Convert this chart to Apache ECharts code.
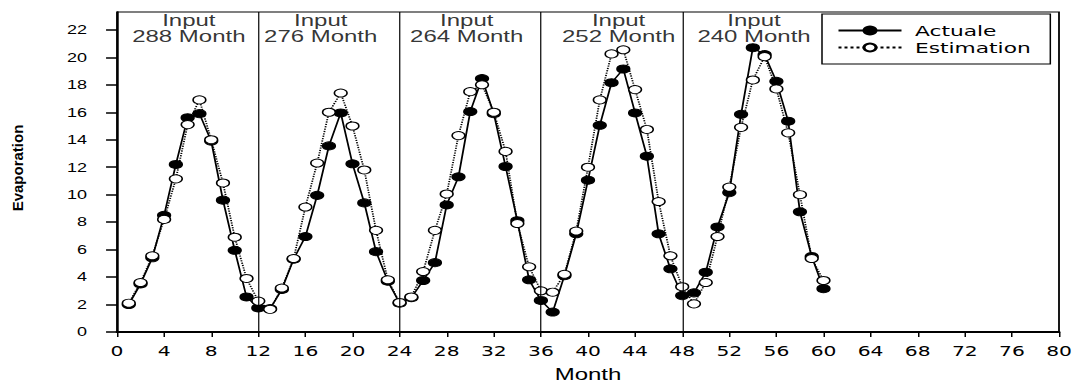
<!DOCTYPE html>
<html>
<head>
<meta charset="utf-8">
<title>Evaporation</title>
<script src="https://cdn.jsdelivr.net/npm/echarts@6/dist/echarts.min.js"></script>
<style>
  html, body { margin: 0; padding: 0; background: #fff; overflow: hidden; }
  /* the original figure is stretched sideways, so the chart is drawn narrow and widened */
  #main { width: 716px; height: 385px; transform: scaleX(1.5); transform-origin: 0 0; }
</style>
</head>
<body>
<div id="main"></div>
<script>
const months = []
for (let m = 1; m <= 60; m++) months.push(m)

const actuale = [
  2.0, 3.5, 5.4, 8.5, 12.2, 15.6, 15.9, 13.9, 9.6, 5.95, 2.55, 1.75,
  1.7, 3.1, 5.3, 6.95, 9.95, 13.55, 15.95, 12.25, 9.4, 5.85, 3.7, 2.1,
  2.5, 3.75, 5.05, 9.25, 11.3, 16.05, 18.45, 15.9, 12.05, 8.1, 3.8, 2.3,
  1.45, 4.1, 7.15, 11.05, 15.05, 18.15, 19.15, 15.95, 12.8, 7.15, 4.6, 2.65,
  2.85, 4.35, 7.65, 10.15, 15.85, 20.7, 20.2, 18.25, 15.35, 8.75, 5.5, 3.15
]
const estimation = [
  2.1, 3.6, 5.55, 8.2, 11.15, 15.1, 16.9, 14.0, 10.85, 6.9, 3.9, 2.25,
  1.65, 3.2, 5.35, 9.1, 12.3, 16.0, 17.4, 15.0, 11.8, 7.4, 3.8, 2.15,
  2.55, 4.4, 7.4, 10.05, 14.3, 17.5, 18.0, 16.0, 13.15, 7.9, 4.75, 3.0,
  2.9, 4.2, 7.35, 12.0, 16.9, 20.25, 20.55, 17.65, 14.75, 9.5, 5.55, 3.3,
  2.05, 3.6, 6.95, 10.55, 14.9, 18.35, 20.05, 17.7, 14.5, 10.0, 5.35, 3.75
]

// panel dividers and captions
const dividers = [12, 24, 36, 48]
const panelInputs = ['288', '276', '264', '252', '240']
const panelX = [6.1, 17.3, 29.7, 42.6, 54.1]
const panelY = 22.1

const xTicks = [0, 4, 8, 12, 16, 20, 24, 28, 32, 36, 40, 44, 48, 52, 56, 60, 64, 68, 72, 76, 80]
const yTicks = [0, 2, 4, 6, 8, 10, 12, 14, 16, 18, 20, 22]

const chart = echarts.init(document.getElementById('main'), null, { renderer: 'svg' })

const option = {
  animation: false,
  backgroundColor: '#fff',
  grid: {
    left: 78,
    right: 10,
    top: 12,
    bottom: 53,
    show: true,
    borderColor: '#000',
    borderWidth: 1.2,
    containLabel: false,
    outerBoundsMode: 'none'
  },
  legend: {
    data: ['Actuale', 'Estimation'],
    orient: 'vertical',
    left: 548,
    top: 14,
    padding: [8, 13, 8, 10],
    itemWidth: 42,
    itemHeight: 10,
    itemGap: 0,
    borderColor: '#000',
    borderWidth: 1,
    textStyle: {
      color: '#000',
      fontFamily: 'DejaVu Sans',
      fontSize: 14.5,
      lineHeight: 17,
      padding: [0, 0, 0, 4]
    }
  },
  xAxis: {
    type: 'value',
    min: 0,
    max: 80,
    interval: 4,
    name: 'Month',
    nameLocation: 'middle',
    nameGap: 35,
    nameTextStyle: { color: '#000', fontFamily: 'Liberation Sans', fontSize: 16 },
    axisLine: { onZero: false, lineStyle: { color: '#000', width: 2 } },
    axisTick: { length: 5, customValues: xTicks, lineStyle: { color: '#000', width: 1 } },
    axisLabel: { margin: 12, customValues: xTicks, color: '#000', fontFamily: 'DejaVu Sans', fontSize: 13.5 },
    splitLine: { show: false }
  },
  yAxis: {
    type: 'value',
    min: 0,
    max: 23.3,
    interval: 2,
    axisLine: { onZero: false, lineStyle: { color: '#000', width: 1.3 } },
    axisTick: { length: 7.3, customValues: yTicks, lineStyle: { color: '#000', width: 1.5 } },
    axisLabel: { margin: 20, customValues: yTicks, color: '#000', fontFamily: 'Liberation Sans', fontSize: 12 },
    splitLine: { show: false }
  },
  graphic: [
    {
      type: 'text',
      x: 11.7,
      y: 168,
      rotation: Math.PI / 2,
      scaleY: 0.68,
      silent: true,
      style: {
        text: 'Evaporation',
        fill: '#000',
        fontSize: 15,
        fontWeight: 'bold',
        fontFamily: 'Liberation Sans',
        align: 'center',
        verticalAlign: 'middle'
      }
    }
  ],
  series: [
    {
      name: 'Actuale',
      type: 'line',
      data: months.map((m, i) => [m, actuale[i]]),
      symbol: 'circle',
      symbolSize: [8.5, 8],
      lineStyle: { color: '#000', width: 1.2, type: 'solid' },
      itemStyle: { color: '#000', borderColor: '#000', borderWidth: 1 },
      markLine: {
        silent: true,
        symbol: 'none',
        label: { show: false },
        lineStyle: { color: '#000', width: 0.8, type: 'solid' },
        data: dividers.map(d => ({ xAxis: d }))
      },
      z: 2
    },
    {
      name: 'Estimation',
      type: 'line',
      data: months.map((m, i) => [m, estimation[i]]),
      symbol: 'circle',
      symbolSize: [8.5, 8],
      lineStyle: { color: '#000', width: 1.2, type: 'dotted' },
      itemStyle: { color: '#fff', borderColor: '#000', borderWidth: 1 },
      z: 3
    },
    {
      name: 'panel',
      type: 'scatter',
      silent: true,
      symbolSize: 1,
      itemStyle: { color: 'rgba(0,0,0,0)' },
      data: panelX.map((x, i) => ({ value: [x, panelY], name: panelInputs[i] })),
      label: {
        show: true,
        position: 'inside',
        formatter: p => 'Input\n' + p.name + ' Month',
        color: '#000',
        fontFamily: 'Liberation Sans',
        fontSize: 16,
        lineHeight: 15.5,
        align: 'center'
      },
      z: 4
    }
  ]
}

chart.setOption(option)
</script>
</body>
</html>
